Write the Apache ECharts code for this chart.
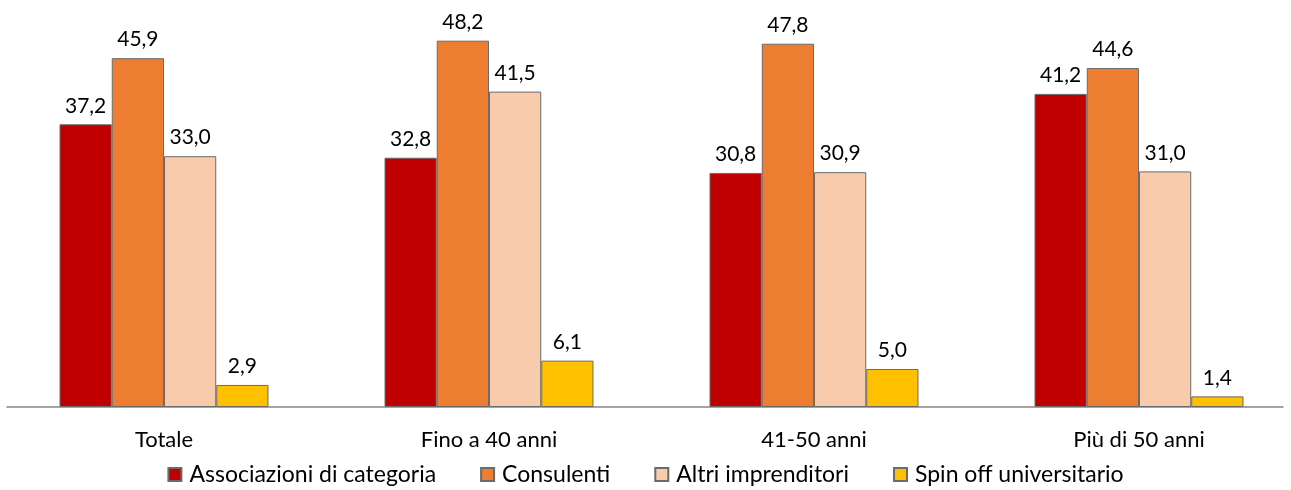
<!DOCTYPE html>
<html>
<head>
<meta charset="utf-8">
<script src="https://cdn.jsdelivr.net/npm/echarts@6/dist/echarts.min.js"></script>
<style>
  html, body { margin: 0; padding: 0; background: #fff; }
  #chart { width: 1291px; height: 490px; }
</style>
</head>
<body>
<div id="chart"></div>
<script>
var categories = ['Totale', 'Fino a 40 anni', '41-50 anni', 'Più di 50 anni'];
var seriesNames = ['Associazioni di categoria', 'Consulenti', 'Altri imprenditori', 'Spin off universitario'];
var associazioni = [37.2, 32.8, 30.8, 41.2];
var consulenti = [45.9, 48.2, 47.8, 44.6];
var altri = [33.0, 41.5, 30.9, 31.0];
var spinOff = [2.9, 6.1, 5.0, 1.4];
var colors = ['#c00000', '#ed7d31', '#f8cbad', '#ffc000'];

var fontFam = 'Lato, "Open Sans", sans-serif';

function makeSeries(name, data, color){
    return {
        name: name,
        type: 'bar',
        data: data,
        barGap: '0%',
        barCategoryGap: '35.7%',
        z: 3,
        itemStyle: {
            color: color,
            borderColor: '#6b6b6b',
            borderWidth: 1
        },
        label: {
            show: true,
            position: 'top',
            distance: 8,
            color: '#000',
            fontSize: 21,
            fontFamily: fontFam
        }
    };
}

var chart = echarts.init(document.getElementById('chart'));
var allSeries = [
    makeSeries(seriesNames[0], associazioni, colors[0]),
    makeSeries(seriesNames[1], consulenti, colors[1]),
    makeSeries(seriesNames[2], altri, colors[2]),
    makeSeries(seriesNames[3], spinOff, colors[3])
];
allSeries.forEach(function(s){
    s.label.formatter = function(p){
        return p.value.toFixed(1).replace('.', ',');
    };
});

chart.setOption({
    animation: false,
    color: colors,
    grid: [
        { left: 1.5, width: 1300, top: 27, bottom: 83, outerBoundsMode: 'none' },
        { left: 7, right: 8, top: 27, bottom: 83, outerBoundsMode: 'none' }
    ],
    legend: {
        data: seriesNames,
        top: 463,
        left: 'center',
        padding: 0,
        icon: 'rect',
        itemWidth: 13,
        itemHeight: 13,
        itemGap: 44,
        textStyle: {
            fontSize: 23,
            color: '#000',
            fontFamily: fontFam,
            padding: [0, 0, 0, 3]
        }
    },
    xAxis: [
        {
            type: 'category',
            gridIndex: 0,
            data: categories,
            axisTick: { show: false },
            axisLine: { show: false },
            axisLabel: {
                margin: 22,
                fontSize: 22,
                color: '#000',
                fontFamily: fontFam
            }
        },
        {
            type: 'category',
            gridIndex: 1,
            data: categories,
            axisTick: { show: false },
            axisLabel: { show: false },
            axisLine: { lineStyle: { color: '#868686', width: 1.5 } }
        }
    ],
    yAxis: [
        { type: 'value', gridIndex: 0, min: 0, max: 50, show: false },
        { type: 'value', gridIndex: 1, min: 0, max: 50, show: false }
    ],
    series: allSeries
});
</script>
</body>
</html>
